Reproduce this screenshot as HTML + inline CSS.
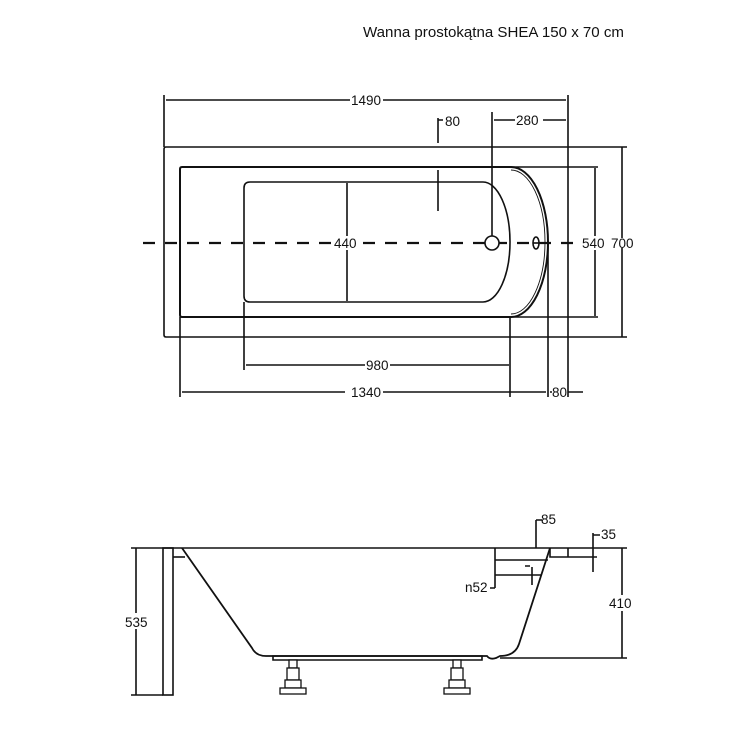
<!DOCTYPE html>
<html><head><meta charset="utf-8"><style>
html,body{margin:0;padding:0;background:#fff;width:750px;height:750px;overflow:hidden}
svg{display:block}
text{font-family:"Liberation Sans",Arial,sans-serif;font-size:13.5px;fill:#111}
</style></head><body>
<svg width="750" height="750" viewBox="0 0 750 750" xmlns="http://www.w3.org/2000/svg">
<rect width="750" height="750" fill="#fff"/>
<text x="363" y="37" style="font-size:15px" textLength="261" lengthAdjust="spacingAndGlyphs">Wanna prostokątna SHEA 150 x 70 cm</text>
<g stroke="#111" fill="none" stroke-width="1.6">
 <path d="M627 147 H166 Q164 147 164 149 V335 Q164 337 166 337 H627"/>
 <path d="M182 167 H511 A37 75 0 0 1 511 317 H182 Q180 317 180 315 V169 Q180 167 182 167 Z" stroke-width="2"/>
 <path d="M511 170 A34 72 0 0 1 511 314" stroke-width="0.9"/>
 <path d="M250 182 H483 A27 60 0 0 1 483 302 H250 Q244 302 244 296 V188 Q244 182 250 182 Z"/>
 <path d="M164 95 V147 M568 95 V397 M511 167 H598 M511 317 H598 M180 317 V397 M244 302 V370 M510 317 V397 M548 243 V397"/>
 <path d="M166 100 H350 M383 100 H566"/>
 <path d="M492 112 V236 M494 120 H515 M543 120 H566"/>
 <path d="M438 118 V143 M438 120 H443 M438 170 V211"/>
 <path d="M347 183 V236 M347 250 V301"/>
 <path d="M595 168 V238 M595 248 V316 M622 147 V238 M622 248 V337"/>
 <path d="M246 365 H365 M390 365 H509"/>
 <path d="M182 392 H345 M383 392 H546 M550 392 H552 M568 392 H583"/>
 <ellipse cx="536" cy="243" rx="3" ry="6"/>
 <path d="M533 243 H539"/>
</g>
<path d="M143 243 H600" stroke="#111" stroke-width="2.2" stroke-dasharray="12 10" fill="none"/>
<rect x="334" y="236" width="28" height="14" fill="#fff"/>
<rect x="578" y="236" width="22" height="14" fill="#fff"/>
<circle cx="492" cy="243" r="7" fill="#fff" stroke="#111" stroke-width="1.6"/>
<g>
 <text x="351" y="105">1490</text>
 <text x="445" y="126">80</text>
 <text x="516" y="125">280</text>
 <text x="334" y="248">440</text>
 <text x="582" y="248">540</text>
 <text x="611" y="248">700</text>
 <text x="366" y="370">980</text>
 <text x="351" y="397">1340</text>
 <text x="552" y="397">80</text>
</g>
<g stroke="#111" fill="none" stroke-width="1.6">
 <path d="M163 548 H627"/>
 <rect x="163" y="548" width="10" height="147"/>
 <path d="M173 557 H185"/>
 <path d="M131 548 H163 M131 695 H163 M136 548 V695"/>
 <path d="M182 548 L252 648 Q256 656 266 656 H487 Q490 660 496 658 L500 656 Q515 656 519 644 L550 548" stroke-width="1.8"/>
 <path d="M273 656 H482 V660 H273 Z"/>
 <path d="M550 548 V557 H568 V548 M568 557 H597"/>
 <path d="M593 533 V572 M593 535 H600 M536 520 V548 M536 520 H542"/>
 <path d="M622 548 V658 M500 658 H627"/>
 <path d="M495 548 V588 M490 588 H495 M495 560 H548 M495 575 H542 M525 566 H530 M532 567 V585"/>
</g>
<g fill="#fff" stroke="#111" stroke-width="1.3">
 <rect x="289" y="660" width="8" height="8"/><rect x="287" y="668" width="12" height="12"/><rect x="285" y="680" width="16" height="8"/><rect x="280" y="688" width="26" height="6"/>
 <rect x="453" y="660" width="8" height="8"/><rect x="451" y="668" width="12" height="12"/><rect x="449" y="680" width="16" height="8"/><rect x="444" y="688" width="26" height="6"/>
</g>
<rect x="608" y="595" width="26" height="16" fill="#fff"/>
<rect x="124" y="613" width="26" height="16" fill="#fff"/>
<g>
 <text x="541" y="524">85</text>
 <text x="601" y="539">35</text>
 <text x="465" y="592">n52</text>
 <text x="609" y="608">410</text>
 <text x="125" y="627">535</text>
</g>
</svg>
</body></html>
